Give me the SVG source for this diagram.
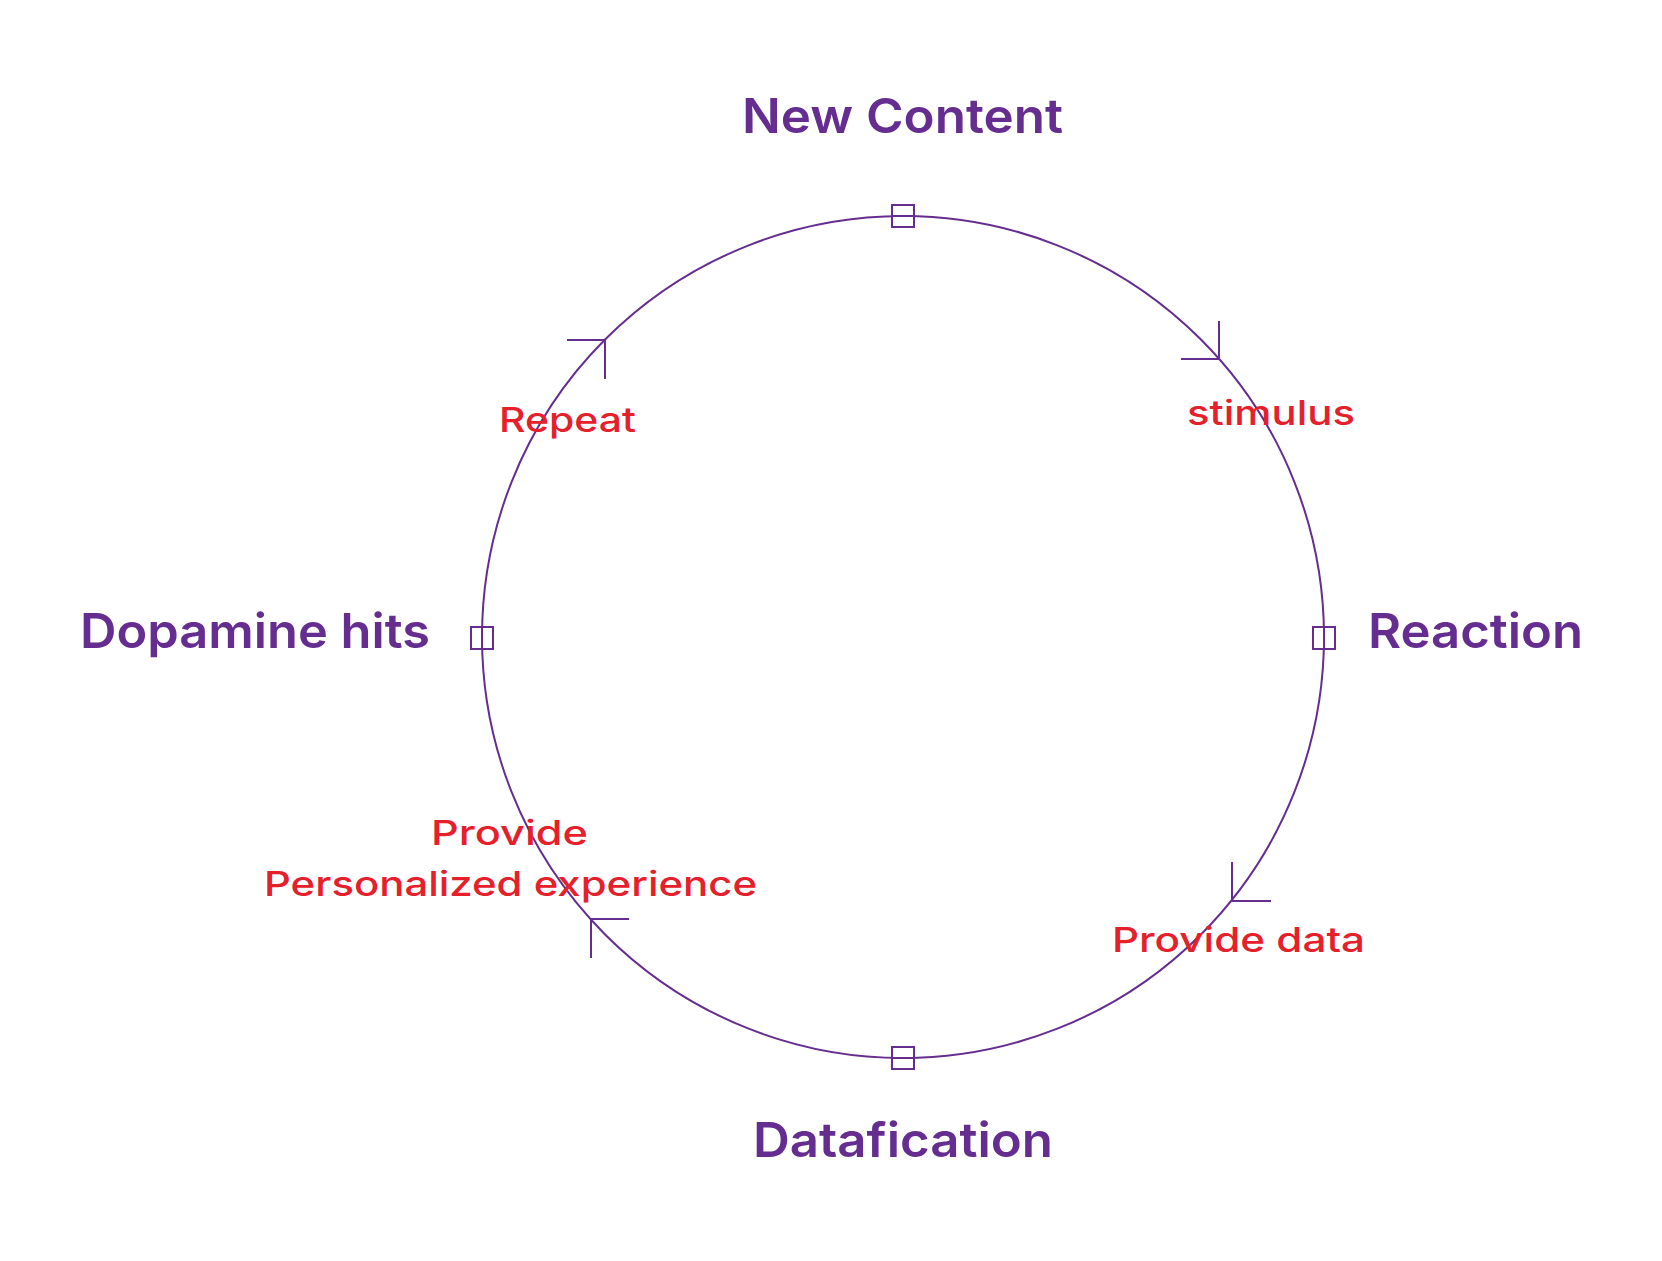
<svg xmlns="http://www.w3.org/2000/svg" width="1662" height="1261" viewBox="0 0 1662 1261">
<style>
.bg{fill:#ffffff}
.ring{fill:none;stroke:#652D90;stroke-width:2}
.node-box{fill:#ffffff;stroke:#652D90;stroke-width:2}
.node-box-line{stroke:#652D90;stroke-width:2}
.title{font-family:Inter,"Liberation Sans",sans-serif;font-weight:600;font-size:48px;fill:#652D90}
.label{font-family:Inter,"Liberation Sans",sans-serif;font-weight:500;font-size:34px;fill:#E5202A}
.arrow{fill:none;stroke:#652D90;stroke-width:2;stroke-linecap:butt;stroke-linejoin:miter}
</style>
<rect class="bg" x="0" y="0" width="1662" height="1261"/>
<g id="connectors">
<circle class="ring" cx="903" cy="637" r="421"/>
<path class="arrow" d="M1219 321 V359 H1181"/>
<path class="arrow" d="M1232 862 V901 H1271"/>
<path class="arrow" d="M629 919 H591 V958"/>
<path class="arrow" d="M567 340 H605 V379"/>
</g>
<g id="node-new-content">
<rect class="node-box" x="892" y="205" width="22" height="22"/>
<line class="node-box-line" x1="892" y1="216" x2="914" y2="216"/>
<text class="title" x="742" y="133" textLength="321" lengthAdjust="spacingAndGlyphs">New Content</text>
</g>
<g id="node-reaction">
<rect class="node-box" x="1313" y="627" width="22" height="22"/>
<line class="node-box-line" x1="1324" y1="627" x2="1324" y2="649"/>
<text class="title" x="1368" y="648" textLength="215" lengthAdjust="spacingAndGlyphs">Reaction</text>
</g>
<g id="node-datafication">
<rect class="node-box" x="892" y="1047" width="22" height="22"/>
<line class="node-box-line" x1="892" y1="1058" x2="914" y2="1058"/>
<text class="title" x="753" y="1157" textLength="300" lengthAdjust="spacingAndGlyphs">Datafication</text>
</g>
<g id="node-dopamine-hits">
<rect class="node-box" x="471" y="627" width="22" height="22"/>
<line class="node-box-line" x1="482" y1="627" x2="482" y2="649"/>
<text class="title" x="80" y="648" textLength="350" lengthAdjust="spacingAndGlyphs">Dopamine hits</text>
</g>
<g id="labels">
<text class="label" x="1187" y="425" textLength="168" lengthAdjust="spacingAndGlyphs">stimulus</text>
<text class="label" x="1112" y="952" textLength="253" lengthAdjust="spacingAndGlyphs">Provide data</text>
<text class="label" x="431" y="845" textLength="157" lengthAdjust="spacingAndGlyphs">Provide</text>
<text class="label" x="264" y="896" textLength="493" lengthAdjust="spacingAndGlyphs">Personalized experience</text>
<text class="label" x="499" y="432" textLength="137" lengthAdjust="spacingAndGlyphs">Repeat</text>
</g>
</svg>
